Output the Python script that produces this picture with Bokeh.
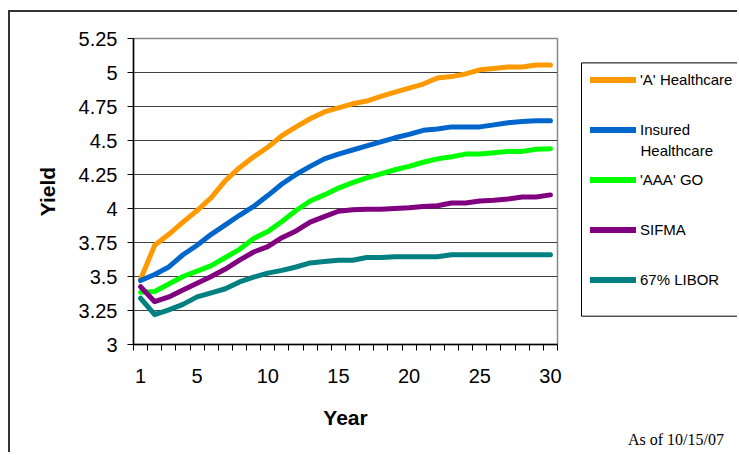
from bokeh.plotting import figure
from bokeh.layouts import row
from bokeh.models import FixedTicker, Legend, LegendItem, Label, Range1d
from bokeh.embed import file_html
from bokeh.resources import INLINE

years = [1, 2, 3, 4, 5, 6, 7, 8, 9, 10, 11, 12, 13, 14, 15,
         16, 17, 18, 19, 20, 21, 22, 23, 24, 25, 26, 27, 28, 29, 30]

a_healthcare = [3.48, 3.73, 3.81, 3.90, 3.985, 4.08, 4.205, 4.30, 4.38, 4.45,
                4.535, 4.60, 4.66, 4.71, 4.74, 4.77, 4.79, 4.825, 4.855, 4.885,
                4.915, 4.96, 4.97, 4.99, 5.02, 5.03, 5.04, 5.04, 5.055, 5.055]
insured_healthcare = [3.47, 3.515, 3.57, 3.66, 3.73, 3.81, 3.88, 3.95, 4.015, 4.095,
                      4.18, 4.25, 4.31, 4.365, 4.40, 4.43, 4.46, 4.49, 4.52, 4.545,
                      4.575, 4.585, 4.60, 4.60, 4.60, 4.615, 4.63, 4.64, 4.645, 4.645]
aaa_go = [3.385, 3.39, 3.445, 3.50, 3.54, 3.58, 3.64, 3.70, 3.78, 3.83,
          3.905, 3.985, 4.055, 4.10, 4.15, 4.19, 4.225, 4.255, 4.285, 4.31,
          4.34, 4.365, 4.38, 4.40, 4.40, 4.41, 4.42, 4.42, 4.435, 4.44]
sifma = [3.425, 3.315, 3.35, 3.40, 3.45, 3.50, 3.555, 3.62, 3.68, 3.72,
         3.785, 3.835, 3.90, 3.94, 3.98, 3.99, 3.995, 3.995, 4.0, 4.005,
         4.015, 4.02, 4.04, 4.04, 4.055, 4.06, 4.07, 4.085, 4.085, 4.10]
libor_67 = [3.34, 3.22, 3.255, 3.295, 3.35, 3.38, 3.41, 3.46, 3.495, 3.525,
            3.545, 3.57, 3.60, 3.61, 3.62, 3.62, 3.64, 3.64, 3.645, 3.645,
            3.645, 3.645, 3.66, 3.66, 3.66, 3.66, 3.66, 3.66, 3.66, 3.66]

series_names = ["'A' Healthcare", "Insured", "'AAA' GO", "SIFMA", "67% LIBOR"]
second_line = "Healthcare"
series_colors = ["#FF9900", "#0066CC", "#00FF00", "#800080", "#008080"]

y_ticks = [3.0, 3.25, 3.5, 3.75, 4.0, 4.25, 4.5, 4.75, 5.0, 5.25]
y_tick_labels = ["3", "3.25", "3.5", "3.75", "4", "4.25", "4.5", "4.75", "5", "5.25"]
x_ticks = [1, 5, 10, 15, 20, 25, 30]
x_minor = [y - 0.5 for y in years] + [years[-1] + 0.5]
note = "As of 10/15/07"

font = "Liberation Sans"
all_series = [a_healthcare, insured_healthcare, aaa_go, sifma, libor_67]

# ---------------- main chart ----------------
p = figure(width=565, height=440, output_backend="svg", toolbar_location=None,
           x_range=Range1d(0.5, 30.5), y_range=Range1d(3.0, 5.25),
           min_border_left=123, min_border_top=26, min_border_right=18,
           min_border_bottom=108)
p.background_fill_color = "white"
p.border_fill_color = "white"
p.outline_line_color = "#888888"
p.outline_line_width = 1.5

p.xgrid.grid_line_color = None
p.ygrid.grid_line_color = "#404040"
p.ygrid.grid_line_width = 1
p.ygrid.ticker = FixedTicker(ticks=y_ticks)

p.yaxis.ticker = FixedTicker(ticks=y_ticks)
p.yaxis.major_label_overrides = {v: s for v, s in zip(y_ticks, y_tick_labels)}
p.yaxis.axis_label = "Yield"
p.yaxis.axis_label_text_font = font
p.yaxis.axis_label_text_font_style = "bold"
p.yaxis.axis_label_text_font_size = "21px"
p.yaxis.axis_label_text_color = "black"
p.yaxis.axis_label_standoff = 17
p.yaxis.major_label_text_font = font
p.yaxis.major_label_text_font_size = "20px"
p.yaxis.major_label_text_color = "black"
p.yaxis.major_label_standoff = 10
p.yaxis.major_tick_out = 6
p.yaxis.major_tick_in = 0
p.yaxis.minor_tick_line_color = None
p.yaxis.axis_line_color = "black"
p.yaxis.axis_line_width = 1.5
p.yaxis.major_tick_line_color = "black"

p.xaxis.ticker = FixedTicker(ticks=x_ticks, minor_ticks=x_minor)
p.xaxis.axis_label = "Year"
p.xaxis.axis_label_text_font = font
p.xaxis.axis_label_text_font_style = "bold"
p.xaxis.axis_label_text_font_size = "21px"
p.xaxis.axis_label_text_color = "black"
p.xaxis.axis_label_standoff = 20
p.xaxis.major_label_text_font = font
p.xaxis.major_label_text_font_size = "20px"
p.xaxis.major_label_text_color = "black"
p.xaxis.major_label_standoff = 18
p.xaxis.major_tick_out = 6
p.xaxis.major_tick_in = 0
p.xaxis.major_tick_line_color = None
p.xaxis.minor_tick_out = 6
p.xaxis.minor_tick_in = 0
p.xaxis.minor_tick_line_color = "black"
p.xaxis.axis_line_color = "black"
p.xaxis.axis_line_width = 1.5

for color, vals in zip(series_colors, all_series):
    p.line(years, vals, line_width=5, line_color=color,
           line_join="round", line_cap="round")

# ---------------- legend panel (frame aligned with the chart's frame) -------
q = figure(width=162, height=440, output_backend="svg", toolbar_location=None,
           x_range=Range1d(0, 162), y_range=Range1d(306, 0),
           min_border_left=0, min_border_right=0, min_border_top=26,
           min_border_bottom=108, x_axis_location="below", y_axis_location=None)
q.grid.visible = False
q.outline_line_color = None
q.background_fill_color = "white"
q.border_fill_color = "white"
# series proxies for the legend: same data, mapped onto ranges outside the view
q.extra_x_ranges = {"proxy_x": Range1d(1000, 1001)}
q.extra_y_ranges = {"proxy_y": Range1d(1000, 1001)}

# the note under the legend, carried by an invisible axis
q.xaxis.ticker = FixedTicker(ticks=[100.5], minor_ticks=[])
q.xaxis.major_label_overrides = {100.5: note}
q.xaxis.major_label_text_font = "Liberation Serif"
q.xaxis.major_label_text_font_size = "16px"
q.xaxis.major_label_text_color = "black"
q.xaxis.major_label_standoff = 86
q.xaxis.major_tick_out = 0
q.xaxis.major_tick_in = 0
q.xaxis.axis_line_color = None
q.xaxis.major_tick_line_color = None
q.xaxis.minor_tick_line_color = None

# legend frame
q.quad(left=6, right=400, top=24.4, bottom=277.7, fill_color="white",
       line_color="black", line_width=1)

items = []
for name, color, vals in zip(series_names, series_colors, all_series):
    r = q.line(years, vals, line_width=6, line_color=color, line_cap="round",
               x_range_name="proxy_x", y_range_name="proxy_y")
    items.append(LegendItem(label=name, renderers=[r]))

legend = Legend(items=items, location=(15, 56.5), orientation="vertical",
                glyph_width=46, glyph_height=17, label_height=17, spacing=33,
                padding=9, margin=0, label_standoff=4,
                label_text_font=font, label_text_font_size="15px",
                label_text_color="black",
                border_line_color=None, background_fill_alpha=0.0)
q.add_layout(legend)

q.add_layout(Label(x=65, y=194, x_units="screen", y_units="screen",
                   text=second_line, text_font=font, text_font_size="15px",
                   text_color="black", text_baseline="middle", text_align="left"))

layout = row(p, q)
layout.styles = {"margin-left": "8px", "margin-top": "10px",
                 "border-top": "2px solid #333333",
                 "border-left": "2px solid #333333"}

open("out.html", "w").write(file_html(layout, INLINE))
